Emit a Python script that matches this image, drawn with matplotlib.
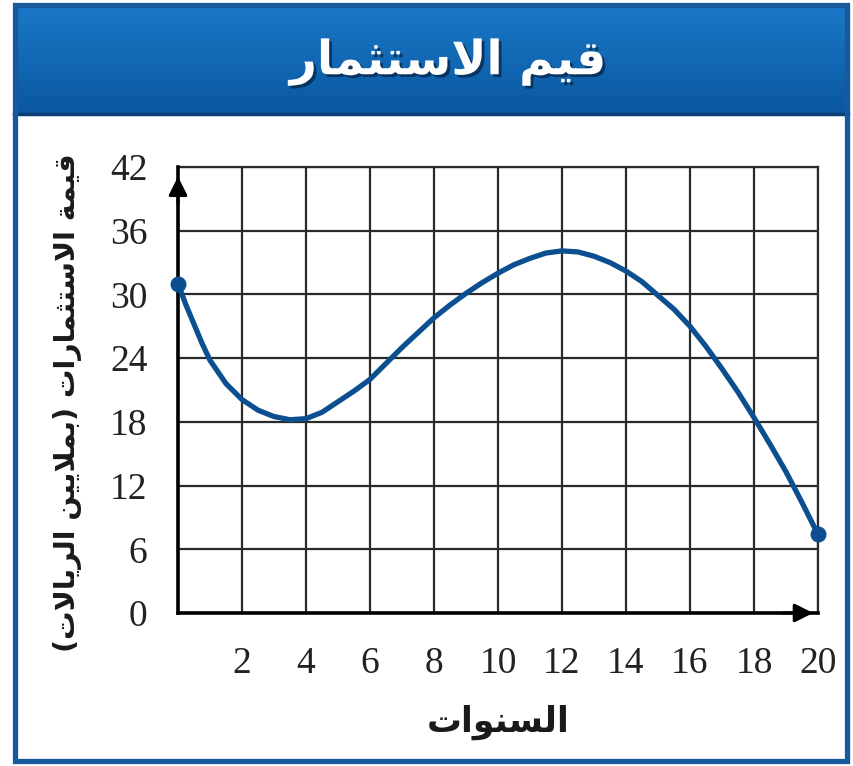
import matplotlib
matplotlib.use("Agg")
import matplotlib.pyplot as plt
import matplotlib.patheffects as pe
from matplotlib.patches import Rectangle
from matplotlib.colors import LinearSegmentedColormap
import numpy as np

# ---------------- data ----------------
years = [0, 0.25, 0.5, 0.75, 1, 1.5, 2, 2.5, 3, 3.5, 4, 4.5, 5, 5.5, 6, 6.5, 7, 7.5, 8, 8.5, 9, 9.5,
         10, 10.5, 11, 11.5, 12, 12.5, 13, 13.5, 14, 14.5, 15, 15.5, 16, 16.5, 17, 17.5,
         18, 18.5, 19, 19.5, 20]
values = [31.0, 29.0, 27.2, 25.4, 23.8, 21.6, 20.1, 19.1, 18.5, 18.2, 18.3, 18.9, 19.9, 20.9, 22.0,
          23.5, 25.0, 26.4, 27.8, 29.0, 30.1, 31.1, 32.0, 32.8, 33.4, 33.9, 34.1, 34.0, 33.6,
          33.0, 32.2, 31.2, 29.9, 28.6, 27.0, 25.1, 23.0, 20.8, 18.4, 15.9, 13.3, 10.4, 7.4]
x_ticks = [2, 4, 6, 8, 10, 12, 14, 16, 18, 20]
y_ticks = [0, 6, 12, 18, 24, 30, 36, 42]

# Arabic text written with presentation forms in visual (left-to-right) order
title = "\uFEAD\uFE8E\uFEE4\uFE9C\uFE98\uFEB3\uFEFB\uFE8D \uFEE2\uFEF4\uFED7"          # قيم الاستثمار
x_label = "\uFE95\uFE8D\uFEEE\uFEE8\uFEB4\uFEDF\uFE8D"                                 # السنوات
y_label = ("(" + "\uFE95\uFEFB\uFE8E\uFEF3\uFEAE\uFEDF\uFE8D" + " "
           + "\uFEE6\uFEF4\uFEF3\uFEFC\uFEE4\uFE91" + ")" + " "
           + "\uFE95\uFE8D\uFEAD\uFE8E\uFEE4\uFE9C\uFE98\uFEB3\uFEFB\uFE8D" + " "
           + "\uFE94\uFEE4\uFEF4\uFED7")                                              # قيمة الاستثمارات (بملايين الريالات)

W, H = 854, 766
LINE_BLUE = "#0b4f90"

fig = plt.figure(figsize=(W / 100, H / 100), dpi=100)
fig.patch.set_facecolor("white")

# background / frame axes in pixel coordinates
bg = fig.add_axes([0, 0, 1, 1])
bg.axis("off")

grad = np.linspace(0, 1, 100).reshape(-1, 1)
cmap = LinearSegmentedColormap.from_list("banner", ["#1b78c6", "#1268b4", "#0b56a0"])
bg.imshow(grad, cmap=cmap, extent=(14, 848, 114, 6), aspect="auto", zorder=1)
bg.plot([14, 848], [114, 114], color="#0a3f78", lw=2.5, zorder=2)
bg.add_patch(Rectangle((15, 5), 832, 756, fill=False, ec="#17599c", lw=3.8, zorder=3))
bg.set_xlim(0, W)
bg.set_ylim(H, 0)

bg.text(448, 62, title, color="white", fontsize=34, fontweight="bold",
        family=["DejaVu Sans"], ha="center", va="center", zorder=4,
        path_effects=[pe.withSimplePatchShadow(offset=(2, -2), shadow_rgbFace="#06284d", alpha=0.8)])

bg.text(498, 722, x_label, color="#1a1a1a", fontsize=25, fontweight="bold",
        family=["DejaVu Sans"], ha="center", va="center")
bg.text(68, 403, y_label, color="#1a1a1a", fontsize=20.5, fontweight="bold",
        family=["DejaVu Sans"], ha="center", va="center", rotation=90)

# main plot axes
ax = fig.add_axes([178 / W, 1 - 613 / H, 640 / W, 446 / H])
ax.set_xlim(0, 20)
ax.set_ylim(0, 42)
ax.set_facecolor("none")

ax.set_xticks(x_ticks)
ax.set_xticklabels([str(v) for v in x_ticks])
ax.set_yticks(y_ticks)
ax.set_yticklabels([str(v) for v in y_ticks])
ax.tick_params(axis="both", length=0, labelsize=27, labelcolor="#222222")
ax.tick_params(axis="x", pad=24)
ax.tick_params(axis="y", pad=22)
for lab in ax.get_xticklabels() + ax.get_yticklabels():
    lab.set_family("Liberation Serif")

ax.grid(True, color="#2b2b2b", lw=1.6, zorder=1)
ax.set_axisbelow(True)
for s in ["top", "right"]:
    ax.spines[s].set_color("#2b2b2b")
    ax.spines[s].set_linewidth(1.6)
for s in ["left", "bottom"]:
    ax.spines[s].set_color("black")
    ax.spines[s].set_linewidth(2.6)
    ax.spines[s].set_zorder(3)

# axis arrowheads
ax.annotate("", xy=(0, 41.1), xytext=(0, 38.5),
            arrowprops=dict(arrowstyle="-|>", color="black", lw=2.2, mutation_scale=28,
                            shrinkA=0, shrinkB=0), zorder=4)
ax.annotate("", xy=(19.85, 0), xytext=(18.9, 0),
            arrowprops=dict(arrowstyle="-|>", color="black", lw=2.2, mutation_scale=28,
                            shrinkA=0, shrinkB=0), zorder=4)

# curve
ax.plot(years, values, color=LINE_BLUE, lw=3.8, solid_joinstyle="round",
        solid_capstyle="round", zorder=5, clip_on=False)
ax.plot([years[0], years[-1]], [values[0], values[-1]], "o", color=LINE_BLUE,
        markersize=10.5, zorder=6, clip_on=False)

fig.savefig("out.png", dpi=100, facecolor="white")
